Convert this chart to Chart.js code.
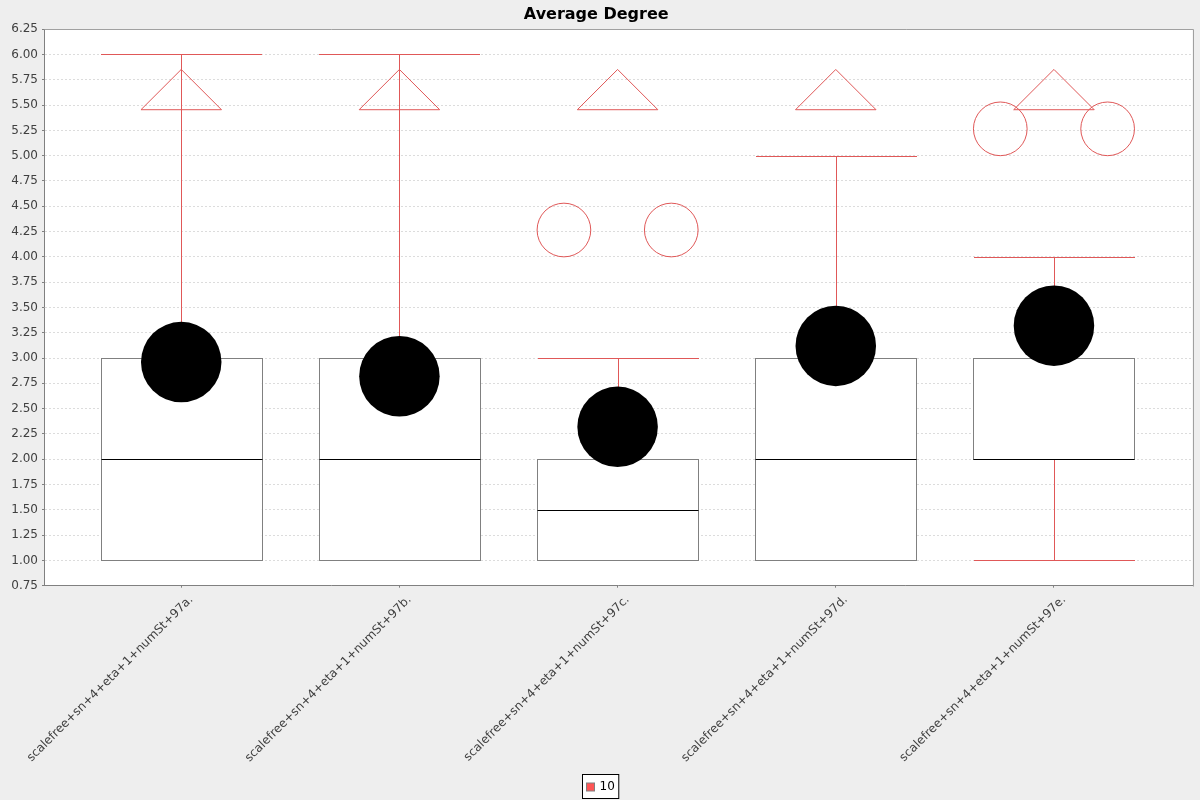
<!DOCTYPE html>
<html><head><meta charset="utf-8">
<script src="https://cdn.jsdelivr.net/npm/chart.js@4/dist/chart.umd.min.js"></script>
<style>html,body{margin:0;padding:0;background:#eeeeee;}canvas{display:block;}</style>
</head><body>
<canvas id="c" width="1200" height="800"></canvas>
<script>
const chartTitle = 'Average Degree';
const seriesName = '10';
const categories = [
  'scalefree+sn+4+eta+1+numSt+97a.',
  'scalefree+sn+4+eta+1+numSt+97b.',
  'scalefree+sn+4+eta+1+numSt+97c.',
  'scalefree+sn+4+eta+1+numSt+97d.',
  'scalefree+sn+4+eta+1+numSt+97e.'
];
const q1 = [1, 1, 1, 1, 2];
const q3 = [3, 3, 2, 3, 3];
const medians = [2, 2, 1.5, 2, 2];
const means = [2.96, 2.82, 2.32, 3.12, 3.32];
const whiskerLow = [1, 1, 1, 1, 1];
const whiskerHigh = [6, 6, 3, 5, 4];
const outliers = [[], [], [4, 4], [], [5, 5]];
const highFarOut = [true, true, true, true, true];
const yMin = 0.75, yMax = 6.25, yStep = 0.25;

const SERIES_COLOR = '#ff5555';
const WHISKER_COLOR = '#e05858';
const OUTLINE_COLOR = '#808080';
const FONT = '"DejaVu Sans", sans-serif';

const crisp = v => Math.round(v) + 0.5;

function seg(ctx, x1, y1, x2, y2) {
  ctx.beginPath(); ctx.moveTo(x1, y1); ctx.lineTo(x2, y2); ctx.stroke();
}

const boxPlugin = {
  id: 'boxWhisker',
  beforeDraw(chart) {
    const {ctx, chartArea: a} = chart;
    ctx.save();
    ctx.fillStyle = '#eeeeee';
    ctx.fillRect(0, 0, chart.width, chart.height);
    ctx.fillStyle = '#ffffff';
    ctx.fillRect(a.left, a.top, a.right - a.left, a.bottom - a.top);
    ctx.restore();
  },
  beforeDatasetsDraw(chart) {
    const {ctx} = chart;
    const meta = chart.getDatasetMeta(0);
    const xs = chart.scales.x, ys = chart.scales.y;
    ctx.save();
    ctx.strokeStyle = WHISKER_COLOR;
    ctx.lineWidth = 1;
    categories.forEach((c, i) => {
      const x = crisp(xs.getPixelForValue(i));
      const w = meta.data[i].width;
      const l = Math.round(x - w / 2), r = Math.round(x + w / 2);
      const yHi = crisp(ys.getPixelForValue(whiskerHigh[i]));
      const yQ3 = crisp(ys.getPixelForValue(q3[i]));
      const yLo = crisp(ys.getPixelForValue(whiskerLow[i]));
      const yQ1 = crisp(ys.getPixelForValue(q1[i]));
      seg(ctx, x, yQ3, x, yHi);
      seg(ctx, l, yHi, r, yHi);
      seg(ctx, x, yQ1, x, yLo);
      seg(ctx, l, yLo, r, yLo);
    });
    ctx.restore();
  },
  afterDatasetsDraw(chart) {
    const {ctx, chartArea: a} = chart;
    const meta = chart.getDatasetMeta(0);
    const xs = chart.scales.x, ys = chart.scales.y;
    ctx.save();
    categories.forEach((c, i) => {
      const xc = xs.getPixelForValue(i);
      const bar = meta.data[i];
      const w = bar.width;
      const l = xc - w / 2, r = xc + w / 2;
      // box outline over the whisker caps
      ctx.strokeStyle = OUTLINE_COLOR;
      ctx.lineWidth = 1;
      const bl = Math.round(l), brr = Math.round(r);
      const bt = crisp(Math.min(bar.y, bar.base)), bb = crisp(Math.max(bar.y, bar.base));
      ctx.strokeRect(bl + 0.5, bt, brr - bl, bb - bt);
      // median
      ctx.strokeStyle = '#000000';
      const ym = crisp(ys.getPixelForValue(medians[i]));
      seg(ctx, bl + 0.5, ym, brr + 0.5, ym);
      // mean
      const ar = w / 4;
      ctx.fillStyle = '#000000';
      ctx.beginPath();
      ctx.arc(xc, ys.getPixelForValue(means[i]), ar, 0, Math.PI * 2);
      ctx.fill();
      // outliers
      ctx.strokeStyle = WHISKER_COLOR;
      const od = w / 3;
      const list = outliers[i];
      if (list.length) {
        const avg = list.reduce((s, v) => s + v, 0) / list.length;
        const yb = ys.getPixelForValue(avg);
        const centers = list.length > 1 ? [l + od / 2, r - od / 2] : [xc];
        centers.forEach(cx => {
          ctx.beginPath();
          ctx.arc(cx, yb - od / 2, od / 2, 0, Math.PI * 2);
          ctx.stroke();
        });
      }
      // high far-out marker
      if (highFarOut[i]) {
        const m = a.top + ar;
        const side = ar;
        ctx.beginPath();
        ctx.moveTo(xc - side, m + side);
        ctx.lineTo(xc, m);
        ctx.lineTo(xc + side, m + side);
        ctx.closePath();
        ctx.stroke();
      }
    });
    ctx.restore();
  },
  afterDraw(chart) {
    const {ctx, chartArea: a} = chart;
    ctx.save();
    ctx.strokeStyle = '#a0a0a0';
    ctx.lineWidth = 1;
    seg(ctx, crisp(a.left), crisp(a.top), crisp(a.right), crisp(a.top));
    seg(ctx, crisp(a.right), crisp(a.top), crisp(a.right), crisp(a.bottom));
    // legend
    ctx.font = '12px ' + FONT;
    const tw = ctx.measureText(seriesName).width;
    const pad = 4, sq = 8, gap = 5, bh = 24;
    const bw = pad + sq + gap + tw + pad;
    const bx = Math.round(chart.width / 2 - bw / 2) + 0.5;
    const by = chart.height - bh - 2 + 0.5;
    ctx.fillStyle = '#ffffff';
    ctx.fillRect(bx, by, bw, bh);
    ctx.strokeStyle = '#000000';
    ctx.strokeRect(bx, by, bw, bh);
    ctx.fillStyle = SERIES_COLOR;
    const sy = Math.round(by + (bh - sq) / 2);
    ctx.fillRect(bx + pad, sy, sq, sq);
    ctx.strokeStyle = OUTLINE_COLOR;
    ctx.strokeRect(bx + pad, sy, sq, sq);
    ctx.fillStyle = '#000000';
    ctx.textBaseline = 'middle';
    ctx.textAlign = 'left';
    ctx.fillText(seriesName, bx + pad + sq + gap, by + bh / 2 + 0.5);
    ctx.restore();
  }
};

new Chart(document.getElementById('c'), {
  type: 'bar',
  data: {
    datasets: [{
      label: seriesName,
      data: categories.map((c, i) => ({x: i, y: [q1[i], q3[i]]})),
      backgroundColor: '#ffffff',
      borderColor: OUTLINE_COLOR,
      borderWidth: 0,
      borderSkipped: false,
      categoryPercentage: 0.738,
      barPercentage: 1
    }]
  },
  options: {
    responsive: false,
    devicePixelRatio: 1,
    animation: false,
    events: [],
    layout: {padding: {left: 0, right: 7.5, top: 0, bottom: 0}},
    plugins: {
      legend: {display: false},
      tooltip: {enabled: false},
      title: {
        display: true,
        text: chartTitle,
        color: '#000000',
        font: {family: FONT, size: 16, weight: 'bold', lineHeight: 1.2},
        padding: {top: 5, bottom: 5}
      }
    },
    scales: {
      x: {
        type: 'linear',
        min: -0.629,
        max: 4.635,
        offset: false,
        afterBuildTicks: s => { s.ticks = categories.map((c, i) => ({value: i})); },
        afterFit: s => { s.height = 214.3; },
        ticks: {
          autoSkip: false,
          minRotation: 45,
          maxRotation: 45,
          padding: 5,
          labelOffset: 10,
          color: '#404040',
          font: {family: FONT, size: 12},
          callback: v => categories[Math.round(v)]
        },
        grid: {drawOnChartArea: false, offset: false, tickLength: 2, tickColor: OUTLINE_COLOR},
        border: {color: OUTLINE_COLOR}
      },
      y: {
        min: yMin,
        max: yMax,
        afterFit: s => { s.width = 44; },
        ticks: {
          stepSize: yStep,
          autoSkip: false,
          padding: 4,
          color: '#404040',
          font: {family: FONT, size: 12},
          callback: v => Number(v).toFixed(2)
        },
        grid: {color: '#dcdcdc', tickLength: 2, tickColor: OUTLINE_COLOR, tickBorderDash: []},
        border: {color: OUTLINE_COLOR, dash: [2, 2]}
      }
    }
  },
  plugins: [boxPlugin]
});
</script>
</body></html>
